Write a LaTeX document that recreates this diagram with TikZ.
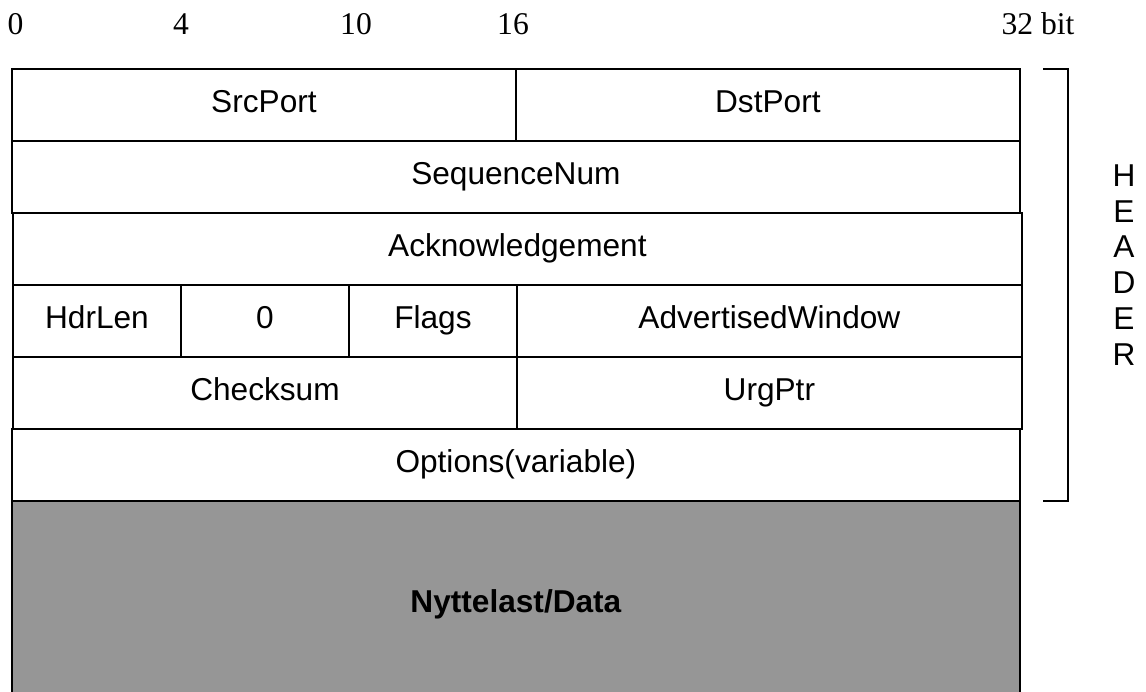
\documentclass[tikz,border=0pt]{standalone}
\usepackage{fontspec}
\setmainfont{Liberation Serif}
\setsansfont{Liberation Sans}
\usepackage{tikz}
\usetikzlibrary{positioning}
\definecolor{datagray}{RGB}{150,150,150}

\begin{document}
\begin{tikzpicture}[x=0.02cm, y=-0.02cm, line width=0.8pt,
    every node/.style={inner sep=0pt, outer sep=0pt},
    field/.style={draw, minimum height=1.44cm, text height=1.1em, text depth=0.2em,
        font=\sffamily\fontsize{18}{21}\selectfont},
    bitnum/.style={anchor=base, font=\fontsize{18}{21}\selectfont}]
    \useasboundingbox (0,0) rectangle (1146,691);
    % bit positions
    \node[bitnum] (b0) at (15.5,34) {0};
    \node[bitnum] (b4) at (181,34) {4};
    \node[bitnum] (b10) at (356,34) {10};
    \node[bitnum] (b16) at (513,34) {16};
    \node[bitnum] (b32) at (1038,34) {32 bit};
    % header fields
    \node[field, minimum width=10.08cm, anchor=north west] (src) at (12,69) {SrcPort};
    \node[field, minimum width=10.08cm, right=0pt of src] (dst) {DstPort};
    \node[field, minimum width=20.16cm, anchor=north west] (seq) at (src.south west) {SequenceNum};
    \node[field, minimum width=20.18cm, anchor=north west, xshift=0.02cm] (ack) at (seq.south west) {Acknowledgement};
    \node[field, minimum width=3.36cm, anchor=north west] (hdr) at (ack.south west) {HdrLen};
    \node[field, minimum width=3.36cm, right=0pt of hdr] (zero) {0};
    \node[field, minimum width=3.36cm, right=0pt of zero] (flags) {Flags};
    \node[field, minimum width=10.1cm, right=0pt of flags] (win) {AdvertisedWindow};
    \node[field, minimum width=10.08cm, anchor=north west] (chk) at (hdr.south west) {Checksum};
    \node[field, minimum width=10.1cm, right=0pt of chk] (urg) {UrgPtr};
    \node[field, minimum width=20.16cm, anchor=north west, xshift=-0.02cm] (opt) at (chk.south west) {Options(variable)};
    % payload
    \node[field, fill=datagray, minimum width=20.16cm, minimum height=4cm, text height=1.5em, anchor=north west,
        font=\sffamily\bfseries\fontsize{18}{21}\selectfont] (data) at (opt.south west) {Nyttelast/Data};
    % bracket
    \coordinate (brtl) at (1043,69);
    \coordinate (brtr) at (1068,69);
    \coordinate (brbr) at (1068,501);
    \coordinate (brbl) at (1043,501);
    \draw[line width=0.6pt] (brtl) -- (brtr) -- (brbr) -- (brbl);
    \node[align=center, font=\sffamily\fontsize{18}{20.4}\selectfont] (hdrlabel) at (1124,265) {H\\E\\A\\D\\E\\R};
\end{tikzpicture}
\end{document}
